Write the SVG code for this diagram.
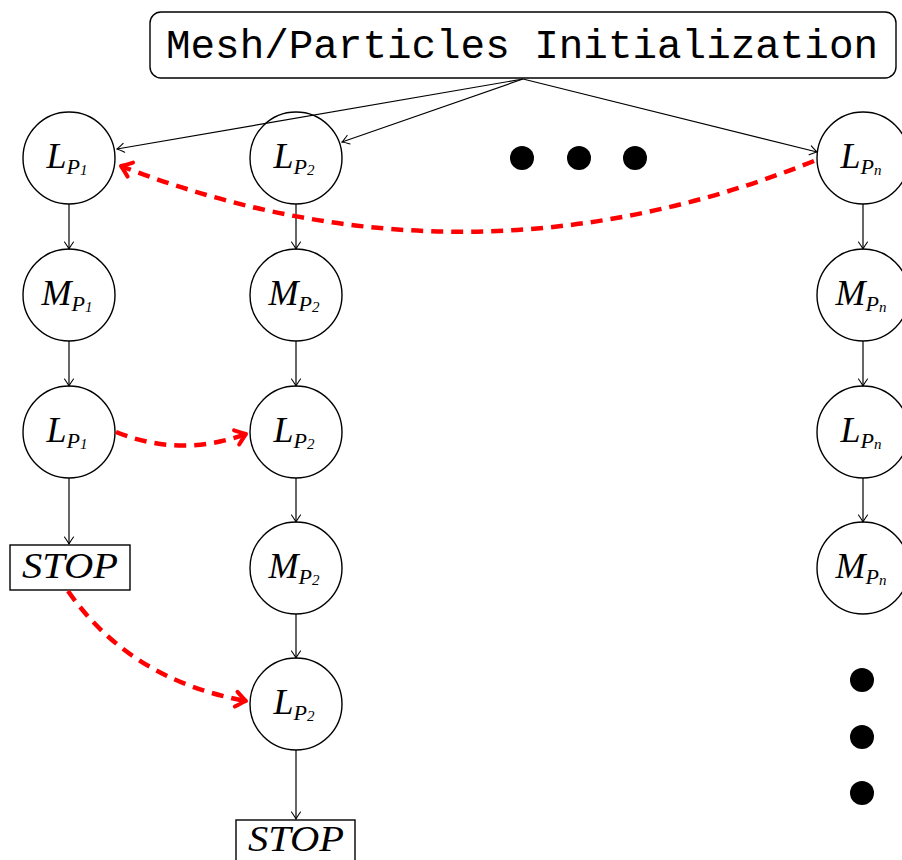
<svg xmlns="http://www.w3.org/2000/svg" width="902" height="860" viewBox="0 0 902 860">
<defs>
<marker id="ah" viewBox="-10 -6 12 12" markerWidth="12" markerHeight="12" refX="0" refY="0" orient="auto" markerUnits="userSpaceOnUse">
<path d="M-7,-4.5 Q-2,-1 0,0 Q-2,1 -7,4.5" fill="none" stroke="#000" stroke-width="1.1" stroke-linecap="round"/>
</marker>
<marker id="rah" viewBox="-16 -10 20 20" markerWidth="20" markerHeight="20" refX="0" refY="0" orient="auto" markerUnits="userSpaceOnUse">
<path d="M-10,-7.5 Q-3,-2 0,0 Q-3,2 -10,7.5" fill="none" stroke="#ff0000" stroke-width="4" stroke-linecap="round" stroke-linejoin="round"/>
</marker>
</defs>
<style>
.node{fill:#fff;stroke:#000;stroke-width:1.4}
.lab{font-family:"Liberation Serif","DejaVu Serif",serif;font-style:italic;font-size:36px;fill:#000;text-anchor:middle}
.sub{font-size:22px}
.sub2{font-size:15px}
.stop{font-size:36px}
.edge{fill:none;stroke:#000;stroke-width:1.2;marker-end:url(#ah)}
.red{fill:none;stroke:#ff0000;stroke-width:4.5;stroke-dasharray:12 8;marker-end:url(#rah)}
.dot{fill:#000}
.mono{font-family:"Liberation Mono","DejaVu Sans Mono",monospace;font-size:41px;fill:#000;text-anchor:middle}
</style>
<rect width="902" height="860" fill="#fff"/>

<g id="init">
<rect class="node" x="150" y="12" width="746" height="66" rx="11"/>
<text class="mono" x="522" y="58" textLength="712" lengthAdjust="spacingAndGlyphs">Mesh/Particles Initialization</text>
</g>

<g id="L1a"><circle class="node" cx="69" cy="158" r="46"/><text class="lab" x="67" y="168">L<tspan class="sub" dy="6">P</tspan><tspan class="sub2" dy="1">1</tspan></text></g>
<g id="M1"><circle class="node" cx="69" cy="295" r="46"/><text class="lab" x="67" y="305">M<tspan class="sub" dy="6">P</tspan><tspan class="sub2" dy="1">1</tspan></text></g>
<g id="L1b"><circle class="node" cx="69" cy="432" r="46"/><text class="lab" x="67" y="442">L<tspan class="sub" dy="6">P</tspan><tspan class="sub2" dy="1">1</tspan></text></g>
<g id="STOP1"><rect class="node" x="10" y="545" width="120" height="45"/><text class="lab stop" x="70" y="578" textLength="96" lengthAdjust="spacingAndGlyphs">STOP</text></g>

<g id="L2a"><circle class="node" cx="296" cy="158" r="46"/><text class="lab" x="294" y="168">L<tspan class="sub" dy="6">P</tspan><tspan class="sub2" dy="1">2</tspan></text></g>
<g id="M2a"><circle class="node" cx="296" cy="295" r="46"/><text class="lab" x="294" y="305">M<tspan class="sub" dy="6">P</tspan><tspan class="sub2" dy="1">2</tspan></text></g>
<g id="L2b"><circle class="node" cx="296" cy="432" r="46"/><text class="lab" x="294" y="442">L<tspan class="sub" dy="6">P</tspan><tspan class="sub2" dy="1">2</tspan></text></g>
<g id="M2b"><circle class="node" cx="296" cy="568" r="46"/><text class="lab" x="294" y="578">M<tspan class="sub" dy="6">P</tspan><tspan class="sub2" dy="1">2</tspan></text></g>
<g id="L2c"><circle class="node" cx="296" cy="704" r="46"/><text class="lab" x="294" y="714">L<tspan class="sub" dy="6">P</tspan><tspan class="sub2" dy="1">2</tspan></text></g>
<g id="STOP2"><rect class="node" x="236" y="820" width="119" height="45"/><text class="lab stop" x="296" y="851" textLength="96" lengthAdjust="spacingAndGlyphs">STOP</text></g>

<g id="Lna"><circle class="node" cx="863" cy="158" r="46"/><text class="lab" x="861" y="168">L<tspan class="sub" dy="6">P</tspan><tspan class="sub2" dy="1">n</tspan></text></g>
<g id="Mna"><circle class="node" cx="863" cy="295" r="46"/><text class="lab" x="861" y="305">M<tspan class="sub" dy="6">P</tspan><tspan class="sub2" dy="1">n</tspan></text></g>
<g id="Lnb"><circle class="node" cx="863" cy="432" r="46"/><text class="lab" x="861" y="442">L<tspan class="sub" dy="6">P</tspan><tspan class="sub2" dy="1">n</tspan></text></g>
<g id="Mnb"><circle class="node" cx="863" cy="568" r="46"/><text class="lab" x="861" y="578">M<tspan class="sub" dy="6">P</tspan><tspan class="sub2" dy="1">n</tspan></text></g>

<g id="hdots"><circle class="dot" cx="522" cy="158" r="12"/><circle class="dot" cx="579" cy="158" r="12"/><circle class="dot" cx="635" cy="158" r="12"/></g>
<g id="vdots"><circle class="dot" cx="862" cy="680" r="12"/><circle class="dot" cx="862" cy="737" r="12"/><circle class="dot" cx="862" cy="793" r="12"/></g>

<g id="connectors">
<path class="edge" d="M523,79 L117,149"/>
<path class="edge" d="M523,79 L342,142"/>
<path class="edge" d="M523,79 L817,152"/>
<path class="edge" d="M69,204 V249"/>
<path class="edge" d="M69,341 V386"/>
<path class="edge" d="M69,478 V544"/>
<path class="edge" d="M296,204 V249"/>
<path class="edge" d="M296,341 V386"/>
<path class="edge" d="M296,478 V522"/>
<path class="edge" d="M296,614 V658"/>
<path class="edge" d="M296,750 V819"/>
<path class="edge" d="M863,204 V249"/>
<path class="edge" d="M863,341 V386"/>
<path class="edge" d="M863,478 V522"/>
<path class="red" d="M814,161 Q467,300 121,166"/>
<path class="red" d="M116,432 Q180,458 246,434"/>
<path class="red" d="M68,591 Q130,680 246,701"/>
</g>
</svg>
